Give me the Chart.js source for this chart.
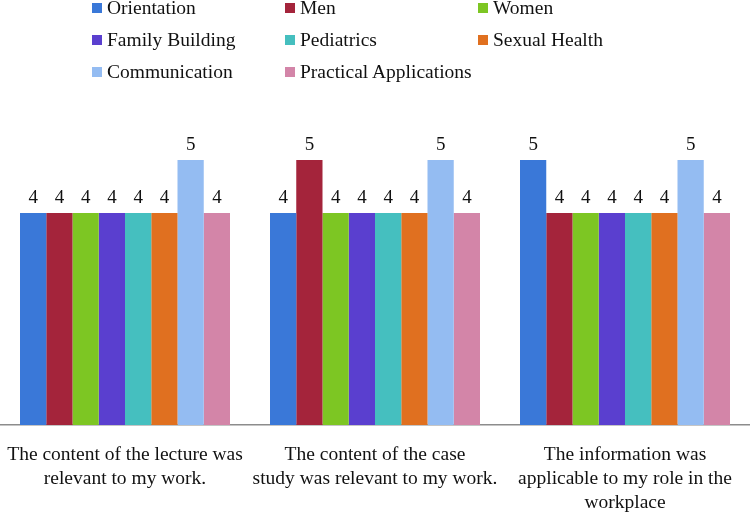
<!DOCTYPE html>
<html>
<head>
<meta charset="utf-8">
<script src="https://cdn.jsdelivr.net/npm/chart.js@4.4.0/dist/chart.umd.min.js"></script>
<style>
  html, body { margin: 0; padding: 0; background: #fff; }
  #wrap { position: relative; width: 750px; height: 515px; }
  #legend {
    position: absolute; left: 92px; top: 0; width: 620px;
    display: grid; grid-template-columns: 193px 193px 220px;
    grid-auto-rows: 32px;
    font-family: "Liberation Serif", "DejaVu Serif", serif; font-size: 19.5px; color: #111;
  }
  #legend div { display: flex; align-items: center; height: 20px; margin-top: -2px; white-space: nowrap; }
  #legend span.box { width: 10px; height: 10px; margin-right: 5px; display: inline-block; }
</style>
</head>
<body>
<div id="wrap">
  <canvas id="chart" width="750" height="515"></canvas>
  <div id="legend"></div>
</div>
<script>
// categories and series
const categories = [
  ['The content of the lecture was', 'relevant to my work.'],
  ['The content of the case', 'study was relevant to my work.'],
  ['The information was', 'applicable to my role in the', 'workplace']
];
const seriesNames = ['Orientation', 'Men', 'Women', 'Family Building', 'Pediatrics', 'Sexual Health', 'Communication', 'Practical Applications'];
const seriesColors = ['#3a78d8', '#a4243b', '#7dc623', '#5a3fcf', '#45bfbf', '#e07020', '#94bcf2', '#d385a8'];

const orientation = [4, 4, 5];
const men = [4, 5, 4];
const women = [4, 4, 4];
const familyBuilding = [4, 4, 4];
const pediatrics = [4, 4, 4];
const sexualHealth = [4, 4, 4];
const communication = [5, 5, 5];
const practicalApplications = [4, 4, 4];

const seriesValues = [orientation, men, women, familyBuilding, pediatrics, sexualHealth, communication, practicalApplications];

// legend in 3 columns, like the original
const legendEl = document.getElementById('legend');
seriesNames.forEach((name, i) => {
  const d = document.createElement('div');
  d.innerHTML = `<span class="box" style="background:${seriesColors[i]}"></span>${name}`;
  legendEl.appendChild(d);
});

// value labels above each bar
const valueLabels = {
  id: 'valueLabels',
  afterDatasetsDraw(chart) {
    const ctx = chart.ctx;
    ctx.save();
    ctx.font = '19px "Liberation Serif", serif';
    ctx.fillStyle = '#111';
    ctx.textAlign = 'center';
    ctx.textBaseline = 'alphabetic';
    chart.data.datasets.forEach((ds, i) => {
      chart.getDatasetMeta(i).data.forEach((bar, j) => {
        ctx.fillText(ds.data[j], bar.x, bar.y - 10);
      });
    });
    ctx.restore();
  }
};

new Chart(document.getElementById('chart'), {
  type: 'bar',
  data: {
    labels: categories,
    datasets: seriesNames.map((name, i) => ({
      label: name,
      data: seriesValues[i],
      backgroundColor: seriesColors[i],
      categoryPercentage: 0.84,
      barPercentage: 1
    }))
  },
  options: {
    responsive: false,
    animation: false,
    layout: { padding: { top: 107, bottom: 0, left: 0, right: 0 } },
    plugins: { legend: { display: false }, tooltip: { enabled: false } },
    scales: {
      x: {
        grid: { display: false, drawTicks: false },
        border: { display: true, color: '#8c8c8c', width: 1.5 },
        afterFit(scale) {
          scale.height = 90;
          scale.paddingLeft = 0;
          scale.paddingRight = 0;
        },
        ticks: {
          color: '#111',
          padding: 18,
          maxRotation: 0,
          autoSkip: false,
          font: { family: '"Liberation Serif", serif', size: 19.5, lineHeight: 1.23 }
        }
      },
      y: {
        display: false,
        min: 0,
        max: 6
      }
    }
  },
  plugins: [valueLabels]
});
</script>
</body>
</html>
